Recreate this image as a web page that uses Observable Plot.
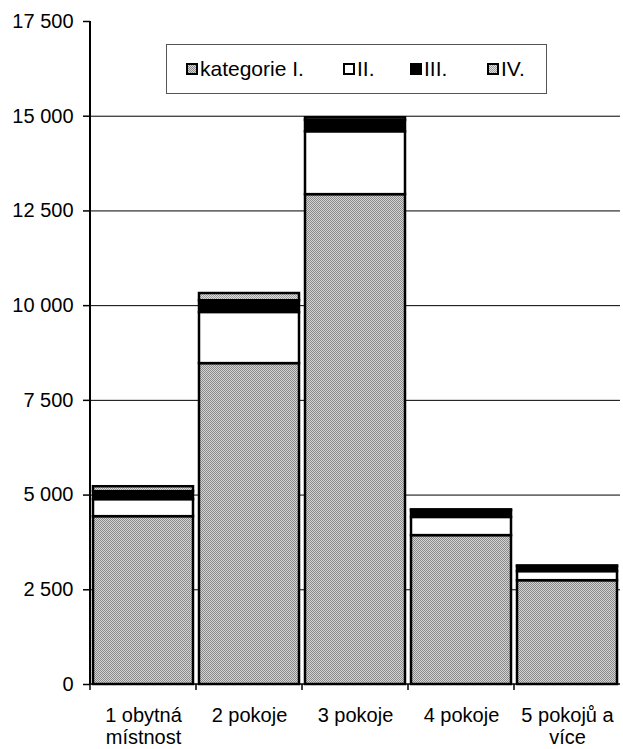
<!DOCTYPE html>
<html><head><meta charset="utf-8">
<script src="https://cdn.jsdelivr.net/npm/d3@7"></script>
<script src="https://cdn.jsdelivr.net/npm/@observablehq/plot@0.6"></script>
<style>
body{margin:0;background:#fff;font-family:"Liberation Sans",Arial,sans-serif;}
#wrap{position:relative;width:623px;height:749px;}
#legend{position:absolute;left:166px;top:44px;width:381px;height:50px;border:1px solid #555;box-sizing:border-box;background:#fff;font-size:21px;color:#000;}
.item{position:absolute;top:0;height:48px;display:flex;align-items:center;white-space:nowrap;}
.sw{width:12px;height:12px;border:2px solid #000;box-sizing:border-box;margin-right:2px;}
.pI{background-color:#d4d4d4;background-image:repeating-conic-gradient(#8a8a8a 0 25%, #d4d4d4 0 50%);background-size:2px 2px;}
.pIV{background-color:#dadada;background-image:repeating-conic-gradient(#9a9a9a 0 25%, #e0e0e0 0 50%);background-size:2px 2px;}
</style></head><body><div id="wrap"><div id="legend"></div></div>
<script>
const categories = ["1 obytná\nmístnost", "2 pokoje", "3 pokoje", "4 pokoje", "5 pokojů a\nvíce"];
const series = ["kategorie I.", "II.", "III.", "IV."];
const catI   = [4430, 8470, 12930, 3930, 2740];
const catII  = [450, 1350, 1660, 480, 240];
const catIII = [210, 310, 300, 180, 130];
const catIV  = [130, 190, 70, 20, 20];
const yTicks = [0, 2500, 5000, 7500, 10000, 12500, 15000, 17500];
const gridTicks = [2500, 5000, 7500, 10000, 12500, 15000];

const seriesValues = [catI, catII, catIII, catIV];
const rows = categories.flatMap((c, i) => seriesValues.map((arr, j) => ({cat: c, series: series[j], value: arr[i]})));

const locale = d3.formatLocale({decimal: ",", thousands: " ", grouping: [3], currency: ["", ""]});
const fmt = locale.format(",d");

function decor(index, scales, values, dims) {
  const g = d3.create("svg:g");
  const defs = g.append("defs");
  const p1 = defs.append("pattern").attr("id", "pI").attr("width", 2).attr("height", 2).attr("patternUnits", "userSpaceOnUse");
  p1.append("rect").attr("width", 2).attr("height", 2).attr("fill", "#d4d4d4");
  p1.append("rect").attr("width", 1).attr("height", 1).attr("fill", "#8a8a8a");
  p1.append("rect").attr("x", 1).attr("y", 1).attr("width", 1).attr("height", 1).attr("fill", "#8a8a8a");
  const p4 = defs.append("pattern").attr("id", "pIV").attr("width", 2).attr("height", 2).attr("patternUnits", "userSpaceOnUse");
  p4.append("rect").attr("width", 2).attr("height", 2).attr("fill", "#e0e0e0");
  p4.append("rect").attr("width", 1).attr("height", 1).attr("fill", "#9a9a9a");
  p4.append("rect").attr("x", 1).attr("y", 1).attr("width", 1).attr("height", 1).attr("fill", "#9a9a9a");
  return g.node();
}

function axes(index, scales, values, dims) {
  const {x, y} = scales;
  const g = d3.create("svg:g");
  const bw = x.bandwidth();
  const starts = categories.map(c => x(c));
  const gap = starts[1] - starts[0] - bw;
  const bounds = starts.map(s => s - gap / 2).concat([starts[starts.length - 1] + bw + gap / 2]);
  const left = bounds[0];
  const right = dims.width - dims.marginRight;
  g.append("line").attr("x1", left).attr("x2", right).attr("y1", y(0)).attr("y2", y(0)).attr("stroke", "#000").attr("stroke-width", 1.5);
  g.append("line").attr("x1", left).attr("x2", left).attr("y1", y(0)).attr("y2", y(17500)).attr("stroke", "#000").attr("stroke-width", 2);
  bounds.slice(0, 5).forEach(b => {
    g.append("line").attr("x1", b).attr("x2", b).attr("y1", y(0)).attr("y2", y(0) + 6).attr("stroke", "#000").attr("stroke-width", 1.5);
  });
  return g.node();
}

const chart = Plot.plot({
  width: 623,
  height: 749,
  marginLeft: 90,
  marginRight: 3,
  marginTop: 21,
  marginBottom: 65,
  style: {fontFamily: "'Liberation Sans', Arial, sans-serif", fontSize: "20px", color: "#000", background: "#fff", overflow: "visible"},
  x: {domain: categories, paddingInner: 0.06, paddingOuter: 0.03, label: null},
  y: {domain: [0, 17500], label: null},
  color: {type: "ordinal", domain: series, range: ["url(#pI)", "#ffffff", "#000000", "url(#pIV)"]},
  marks: [
    decor,
    Plot.gridY(gridTicks, {stroke: "#000", strokeOpacity: 1, strokeWidth: 1}),
    Plot.barY(rows, {x: "cat", y: "value", fill: "series", order: series, stroke: "#000", strokeWidth: 2.5}),
    Plot.axisY(yTicks, {tickSize: 7, tickPadding: 10, tickFormat: fmt, strokeWidth: 1.5, label: null}),
    Plot.axisX({tickSize: 0, tickPadding: 22, lineHeight: 1.1, label: null}),
    axes
  ]
});
document.getElementById("wrap").prepend(chart);

const legend = document.getElementById("legend");
const legendClasses = ["pI", "", "", "pIV"];
const legendBg = ["", "#fff", "#000", ""];
const legendLeft = [19, 176, 243, 320];
series.forEach((s, i) => {
  const it = document.createElement("div");
  it.className = "item";
  it.style.left = legendLeft[i] + "px";
  const sw = document.createElement("span");
  sw.className = "sw " + legendClasses[i];
  if (legendBg[i]) sw.style.background = legendBg[i];
  it.appendChild(sw);
  it.appendChild(document.createTextNode(s));
  legend.appendChild(it);
});
</script>
</body></html>
